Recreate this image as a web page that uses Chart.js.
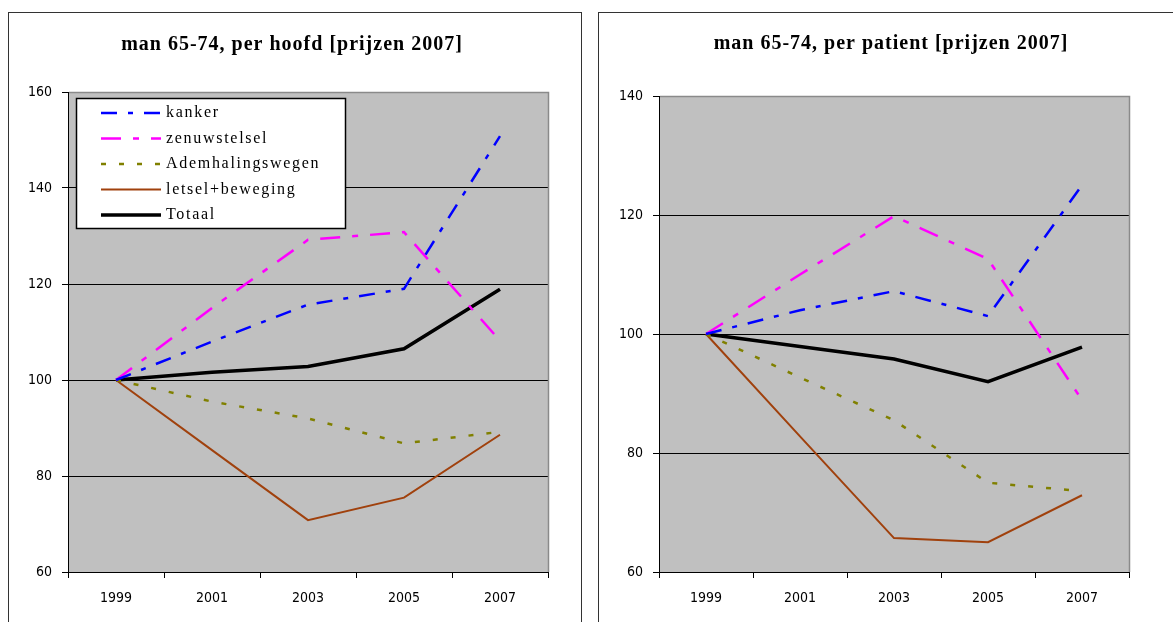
<!DOCTYPE html>
<html>
<head>
<meta charset="utf-8">
<script src="https://cdn.jsdelivr.net/npm/chart.js@4.4.1/dist/chart.umd.min.js"></script>
<style>
  html, body { margin: 0; padding: 0; background: #fff; width: 1173px; height: 622px; overflow: hidden; }
  .panel { position: absolute; border: 1px solid #333; background: #fff; box-sizing: border-box; }
  #panelHoofd { left: 8px; top: 12px; width: 574px; height: 650px; }
  #panelPatient { left: 598px; top: 12px; width: 620px; height: 650px; }
  canvas { position: absolute; }
</style>
</head>
<body>
<div class="panel" id="panelHoofd"></div>
<div class="panel" id="panelPatient"></div>
<canvas id="chartHoofd" width="573" height="610" style="left:8px;top:12px;width:573px;height:610px"></canvas>
<canvas id="chartPatient" width="575" height="610" style="left:598px;top:12px;width:575px;height:610px"></canvas>
<script>
// Index (1999 = 100), men aged 65-74, costs at 2007 prices
const years = ['1999', '2001', '2003', '2005', '2007'];
const seriesNames = ['kanker', 'zenuwstelsel', 'Ademhalingswegen', 'letsel+beweging', 'Totaal'];

// per hoofd (per head)
const hoofdKanker = [100, 108, 115.7, 119, 150.8];
const hoofdZenuwstelsel = [100, 115, 129.2, 130.8, 108.2];
const hoofdAdemhaling = [100, 95.5, 92, 86.8, 89.2];
const hoofdLetsel = [100, 85.4, 70.8, 75.5, 88.6];
const hoofdTotaal = [100, 101.6, 102.8, 106.5, 118.9];

// per patient
const patientKanker = [100, 104, 107.2, 103, 125];
const patientZenuwstelsel = [100, 110, 119.8, 112.6, 88.9];
const patientAdemhaling = [100, 92.7, 85.5, 75, 73.6];
const patientLetsel = [100, 82.8, 65.7, 65, 72.9];
const patientTotaal = [100, 97.9, 95.8, 92, 97.8];

const hoofdTicks = [60, 80, 100, 120, 140, 160];
const patientTicks = [60, 80, 100, 120, 140];

const seriesStyles = [
  { borderColor: '#0000FF', borderWidth: 2.5, borderDash: [16, 11, 5, 11] },
  { borderColor: '#FF00FF', borderWidth: 2.5, borderDash: [20, 12, 6, 12] },
  { borderColor: '#808000', borderWidth: 2.5, borderDash: [5, 13] },
  { borderColor: '#A0410D', borderWidth: 2, borderDash: [] },
  { borderColor: '#000000', borderWidth: 3.5, borderDash: [] }
];

function buildDatasets(seriesValues) {
  return seriesValues.map((values, i) => Object.assign({
    label: seriesNames[i],
    data: values,
    fill: false,
    tension: 0,
    pointRadius: 0,
    pointHoverRadius: 0,
    borderCapStyle: 'butt',
    borderJoinStyle: 'miter'
  }, seriesStyles[i]));
}

// Grey plot background with a darker frame on the top and right edges
const plotBackground = {
  id: 'plotBackground',
  beforeDraw(chart) {
    const { ctx, chartArea: a } = chart;
    ctx.save();
    ctx.fillStyle = '#C0C0C0';
    ctx.fillRect(a.left, a.top, a.right - a.left, a.bottom - a.top);
    ctx.restore();
  },
  beforeDatasetsDraw(chart) {
    const { ctx, chartArea: a } = chart;
    ctx.save();
    ctx.strokeStyle = '#8A8A8A';
    ctx.lineWidth = 1.5;
    ctx.beginPath();
    ctx.moveTo(a.left + 1, a.top + 0.5);
    ctx.lineTo(a.right + 0.5, a.top + 0.5);
    ctx.lineTo(a.right + 0.5, a.bottom);
    ctx.stroke();
    ctx.restore();
  }
};

// Heading in a spaced bold serif face
const heading = {
  id: 'heading',
  afterDraw(chart, args, opts) {
    if (!opts.text) return;
    const ctx = chart.ctx;
    ctx.save();
    ctx.font = 'bold 20px "Liberation Serif", "Times New Roman", serif';
    if ('letterSpacing' in ctx) ctx.letterSpacing = '1px';
    ctx.fillStyle = '#000';
    ctx.textAlign = 'center';
    ctx.textBaseline = 'middle';
    ctx.fillText(opts.text, opts.x, opts.y);
    ctx.restore();
  }
};

// Boxed legend drawn inside the plot area
const boxLegend = {
  id: 'boxLegend',
  afterDatasetsDraw(chart, args, opts) {
    if (!opts.show) return;
    const ctx = chart.ctx;
    const { x, y, width, height, rowStart, rowGap } = opts;
    ctx.save();
    ctx.fillStyle = '#fff';
    ctx.fillRect(x, y, width, height);
    ctx.strokeStyle = '#000';
    ctx.lineWidth = 1.5;
    ctx.strokeRect(x + 0.5, y + 0.5, width, height);
    ctx.font = '16px "Liberation Serif", "Times New Roman", serif';
    if ('letterSpacing' in ctx) ctx.letterSpacing = '1.7px';
    ctx.textBaseline = 'middle';
    ctx.textAlign = 'left';
    chart.data.datasets.forEach((ds, i) => {
      const cy = y + rowStart + i * rowGap;
      ctx.strokeStyle = ds.borderColor;
      ctx.lineWidth = ds.borderWidth;
      ctx.setLineDash(ds.borderDash || []);
      ctx.lineCap = 'butt';
      ctx.beginPath();
      ctx.moveTo(x + 25, cy);
      ctx.lineTo(x + 85, cy);
      ctx.stroke();
      ctx.setLineDash([]);
      ctx.fillStyle = '#000';
      ctx.fillText(ds.label, x + 90, cy);
    });
    ctx.restore();
  }
};

const tickFont = { family: '"DejaVu Sans Condensed", "DejaVu Sans", sans-serif', size: 14 };

function makeChart(canvasId, datasets, tickValues, layout, headingOpts, legendOpts) {
  return new Chart(document.getElementById(canvasId), {
    type: 'line',
    data: { labels: years, datasets: datasets },
    plugins: [plotBackground, heading, boxLegend],
    options: {
      responsive: false,
      animation: false,
      events: [],
      layout: { padding: { top: layout.top, right: layout.right, left: 0, bottom: 0 } },
      plugins: {
        legend: { display: false },
        title: { display: false },
        tooltip: { enabled: false },
        heading: headingOpts,
        boxLegend: legendOpts
      },
      scales: {
        x: {
          type: 'category',
          offset: true,
          afterFit(scale) { scale.height = 50; },
          grid: { offset: true, drawOnChartArea: false, drawTicks: true, tickLength: 6, color: '#000', lineWidth: 1 },
          border: { color: '#000', width: 1 },
          ticks: { color: '#000', font: tickFont, padding: 12, maxRotation: 0 }
        },
        y: {
          min: tickValues[0],
          max: tickValues[tickValues.length - 1],
          afterFit(scale) { scale.width = layout.axisWidth; },
          afterBuildTicks(scale) { scale.ticks = tickValues.map(v => ({ value: v })); },
          grid: { color: '#000', lineWidth: 1, tickLength: 6 },
          border: { color: '#000', width: 1 },
          ticks: { color: '#000', font: tickFont, padding: 10 }
        }
      }
    }
  });
}

makeChart('chartHoofd',
  buildDatasets([hoofdKanker, hoofdZenuwstelsel, hoofdAdemhaling, hoofdLetsel, hoofdTotaal]),
  hoofdTicks,
  { top: 80, right: 33, axisWidth: 60 },
  { text: 'man 65-74, per hoofd [prijzen 2007]', x: 284, y: 33 },
  { show: true, x: 68, y: 86, width: 269, height: 130, rowStart: 15, rowGap: 25.5 }
);

makeChart('chartPatient',
  buildDatasets([patientKanker, patientZenuwstelsel, patientAdemhaling, patientLetsel, patientTotaal]),
  patientTicks,
  { top: 84, right: 44, axisWidth: 61 },
  { text: 'man 65-74, per patient [prijzen 2007]', x: 293, y: 32 },
  { show: false }
);
</script>
</body>
</html>
